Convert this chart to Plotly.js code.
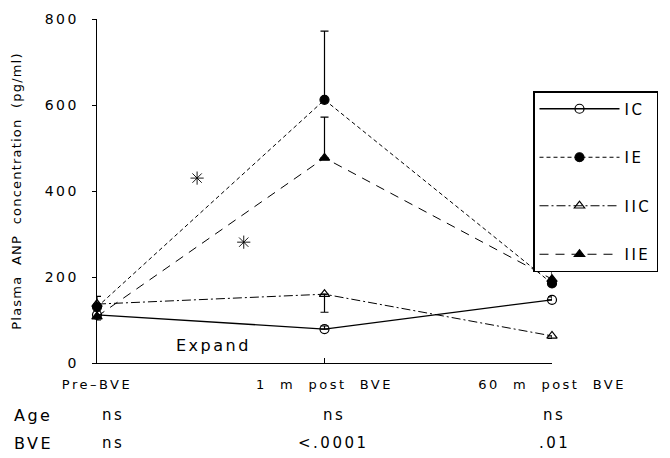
<!DOCTYPE html>
<html>
<head>
<meta charset="utf-8">
<script src="https://cdn.plot.ly/plotly-3.0.1.min.js"></script>
<style>
  html, body { margin: 0; padding: 0; background: #fff; }
  #chart { width: 670px; height: 458px; }
  /* wide, airy lettering throughout */
  text { letter-spacing: 2.5px; }
  text.ytitle { letter-spacing: 1.2px; }
</style>
</head>
<body>
<div id="chart"></div>
<script>
// Time points (numeric positions 0..2, labelled below the axis)
const timePoints = [0, 1, 2];
const timeLabels = ['Pre\u2013BVE', '1  m  post  BVE', '60  m  post  BVE'];

// Plasma ANP (pg/ml) per group
const icValues   = [112, 79, 147];
const ieValues   = [130, 612, 185];
const iicValues  = [137, 160, 63];
const iieValues  = [108, 477, 195];

// Error bars (SE), upward / downward
const icErrUp    = [0, 7, 7];
const icErrDown  = [0, 0, 0];
const ieErrUp    = [25, 160, 0];
const ieErrDown  = [0, 0, 0];
const iicErrUp   = [0, 0, 0];
const iicErrDown = [0, 42, 6];
const iieErrUp   = [0, 95, 19];
const iieErrDown = [8, 0, 0];

// Significance asterisks between Pre-BVE and 1 m
const starX = [0.44, 0.645];
const starY = [430, 281];

// Significance table beneath the axis
const rowLabels = ['Age', 'BVE'];
const sigX      = [0.07, 1.04, 2.01];
const ageSig    = ['ns', 'ns', 'ns'];
const bveSig    = ['ns', '<.0001', '.01'];

const FONT = 'DejaVu Sans, Verdana, sans-serif';
const black = '#000';

function series(name, y, dash, symbol, errUp, errDown, width) {
  return {
    x: timePoints, y: y, name: name, type: 'scatter', mode: 'lines+markers',
    cliponaxis: false, legendgroup: name,
    line: { color: black, width: width, dash: dash },
    marker: { color: black, size: 9, symbol: symbol, line: { color: black, width: 1.2 } },
    error_y: { type: 'data', symmetric: false, array: errUp, arrayminus: errDown,
               color: black, thickness: 1.2, width: 4 }
  };
}

const traces = [
  series('IC',  icValues,  'solid', 'circle-open', icErrUp, icErrDown, 1.3),
  series('IE',  ieValues,  '4px,3px', 'circle', ieErrUp, ieErrDown, 1),
  series('IIC', iicValues, '9px,3px,2px,3px', 'triangle-up-open', iicErrUp, iicErrDown, 1),
  series('IIE', iieValues, '9px,7px', 'triangle-up', iieErrUp, iieErrDown, 1),
  {
    x: starX, y: starY, type: 'scatter', mode: 'markers', showlegend: false,
    marker: { symbol: 'asterisk-open', size: 11, color: black, line: { color: black, width: 0.9 } }
  }
];

// plot box in pixels
const PLOT = { l: 97, r: 118, t: 19, b: 95, W: 670, H: 458 };
const pw = PLOT.W - PLOT.l - PLOT.r, ph = PLOT.H - PLOT.t - PLOT.b;
const px2x = p => (p - PLOT.l) / pw;
const px2y = p => (PLOT.H - PLOT.b - p) / ph;
const rowY = [415, 443];

const annotations = [
  { x: 0.51, y: 40, xref: 'x', yref: 'y', text: 'Expand', showarrow: false,
    font: { family: FONT, size: 16, color: black } }
];
rowLabels.forEach((lab, r) => {
  annotations.push({ x: px2x(12), y: px2y(rowY[r]), xref: 'paper', yref: 'paper',
    text: lab, showarrow: false, xanchor: 'left', yanchor: 'middle',
    font: { family: FONT, size: 16, color: black } });
});
[ageSig, bveSig].forEach((row, r) => {
  row.forEach((txt, i) => {
    annotations.push({ x: sigX[i] / 2, y: px2y(rowY[r]),
      xref: 'paper', yref: 'paper', text: txt.replace('<', '&lt;'), showarrow: false,
      xanchor: 'center', yanchor: 'middle',
      font: { family: FONT, size: 15, color: black } });
  });
});

const layout = {
  width: 670, height: 458,
  margin: { l: PLOT.l, r: PLOT.r, t: PLOT.t, b: PLOT.b, autoexpand: false },
  paper_bgcolor: '#fff', plot_bgcolor: '#fff',
  font: { family: FONT, color: black },
  showlegend: true,
  legend: {
    x: px2x(533), y: px2y(91), xanchor: 'left', yanchor: 'top',
    bordercolor: black, borderwidth: 1.5, bgcolor: '#fff',
    font: { family: FONT, size: 15, color: black },
    traceorder: 'grouped', tracegroupgap: 26, itemwidth: 80
  },
  xaxis: {
    range: [0, 2], tickvals: timePoints, ticktext: timeLabels,
    showgrid: false, zeroline: false, showline: true, linecolor: black, linewidth: 1.3,
    ticks: 'inside', ticklen: 5, tickcolor: black, ticklabelstandoff: 9,
    tickfont: { family: FONT, size: 13, color: black }
  },
  yaxis: {
    range: [0, 800], tickvals: [0, 200, 400, 600, 800],
    showgrid: false, zeroline: false, showline: true, linecolor: black, linewidth: 1.3,
    ticks: 'outside', ticklen: 4, tickcolor: black, ticklabelstandoff: 10,
    tickfont: { family: FONT, size: 14, color: black },
    title: { text: 'Plasma  ANP  concentration  (pg/ml)', standoff: 20,
             font: { family: FONT, size: 13, color: black } }
  },
  annotations: annotations
};

Plotly.newPlot('chart', traces, layout, { displayModeBar: false, staticPlot: true });
</script>
</body>
</html>
